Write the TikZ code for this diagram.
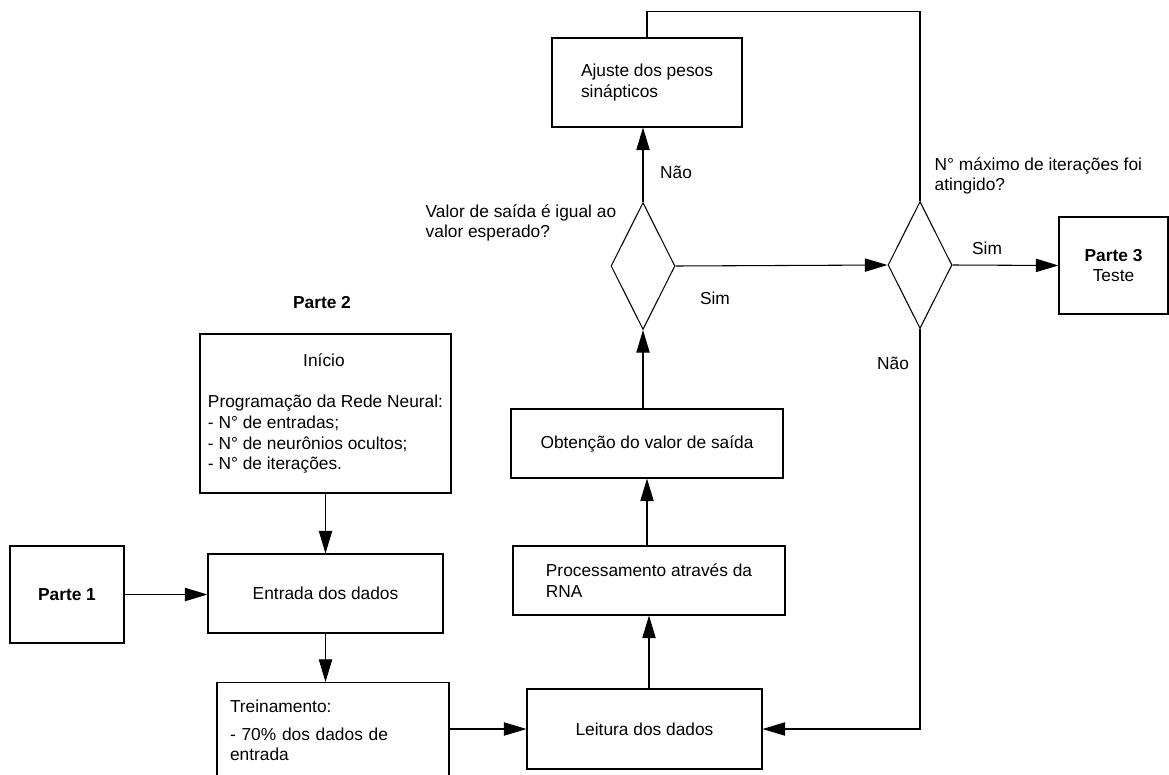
\documentclass[tikz,border=0pt]{standalone}
\usepackage{fontspec}
\setmainfont{Liberation Sans}
\usetikzlibrary{shapes.geometric,arrows.meta}

\begin{document}
\begin{tikzpicture}[x=0.75pt,y=-0.75pt,
  every node/.style={font=\fontsize{13}{15.5}\selectfont},
  blk/.style={draw,line width=0.8pt,inner sep=0pt},
  dec/.style={draw,diamond,line width=0.8pt,inner sep=0pt,minimum width=48pt,minimum height=95.25pt},
  arr/.style={line width=0.8pt,-{Triangle[length=17pt,width=10pt]}}]
  \useasboundingbox (0,0) rectangle (1169,774);
  \clip (0,0) rectangle (1169,774);

  % caixas
  \node[blk,minimum width=85.5pt,minimum height=72.75pt] (p1) at (67,594.5) {\bfseries Parte 1};
  \node[blk,minimum width=188.25pt,minimum height=119.25pt,align=left]
    (inicio) at (325.5,413.5) {\makebox[174pt]{Início}\\[15.5pt]Programação da Rede Neural:\\- N° de entradas;\\- N° de neurônios ocultos;\\- N° de iterações.};
  \node[blk,minimum width=176.25pt,minimum height=59.25pt] (entrada) at (325.5,593.5) {Entrada dos dados};
  \node[blk,anchor=north,minimum width=174pt,minimum height=72pt,text width=154.5pt,align=left]
    (trein) at (333,682) {Treinamento:\\[5pt]- 70\% dos dados de\\entrada};
  \node[blk,minimum width=176.25pt,minimum height=60pt] (leitura) at (644.5,729) {Leitura dos dados};
  \node[blk,minimum width=204pt,minimum height=51.75pt,align=left] (proc) at (649,580.5) {Processamento através da\\RNA};
  \node[blk,minimum width=204pt,minimum height=51.75pt] (obt) at (647,443.5) {Obtenção do valor de saída};
  \node[dec] (d1) at (643,266) {};
  \node[blk,minimum width=142.5pt,minimum height=66.75pt,align=left] (ajuste) at (647,82.5) {Ajuste dos pesos\\sinápticos};
  \node[dec] (d2) at (920,265) {};
  \node[blk,minimum width=81.75pt,minimum height=72.75pt,align=center] (p3) at (1113.5,265.5) {\textbf{Parte 3}\\Teste};

  % textos
  \node (parte2) at (322,303) {\bfseries Parte 2};
  \node[anchor=west,align=left] (q1) at (421,223) {Valor de saída é igual ao\\valor esperado?};
  \node[anchor=west,align=left] (q2) at (930,176) {N° máximo de iterações foi\\atingido?};
  \node (nao1) at (676,172) {Não};
  \node (sim1) at (715,298) {Sim};
  \node (sim2) at (987,248) {Sim};
  \node (nao2) at (893,363) {Não};

  % ligacoes
  \draw[arr] (p1.east) -- (p1.east -| entrada.west);
  \draw[arr] (inicio) -- (entrada);
  \draw[arr] (entrada.south) -- (entrada.south |- trein.north);
  \draw[arr] (trein.east |- leitura) -- (leitura.west);
  \draw[arr] (proc.south |- leitura.north) -- (proc.south);
  \draw[arr] (obt.south |- proc.north) -- (obt.south);
  \draw[arr] (d1.south |- obt.north) -- (d1.south);
  \draw[arr] (d1.north) -- (d1.north |- ajuste.south);
  \draw[line width=0.8pt] (ajuste.north) -- ++(0,-26) -| (d2.north);
  \draw[arr] (d1.east) -- (d2.west);
  \draw[arr] (d2.east) -- (p3.west);
  \draw[arr] (d2.south) |- (leitura.east);
\end{tikzpicture}
\end{document}
